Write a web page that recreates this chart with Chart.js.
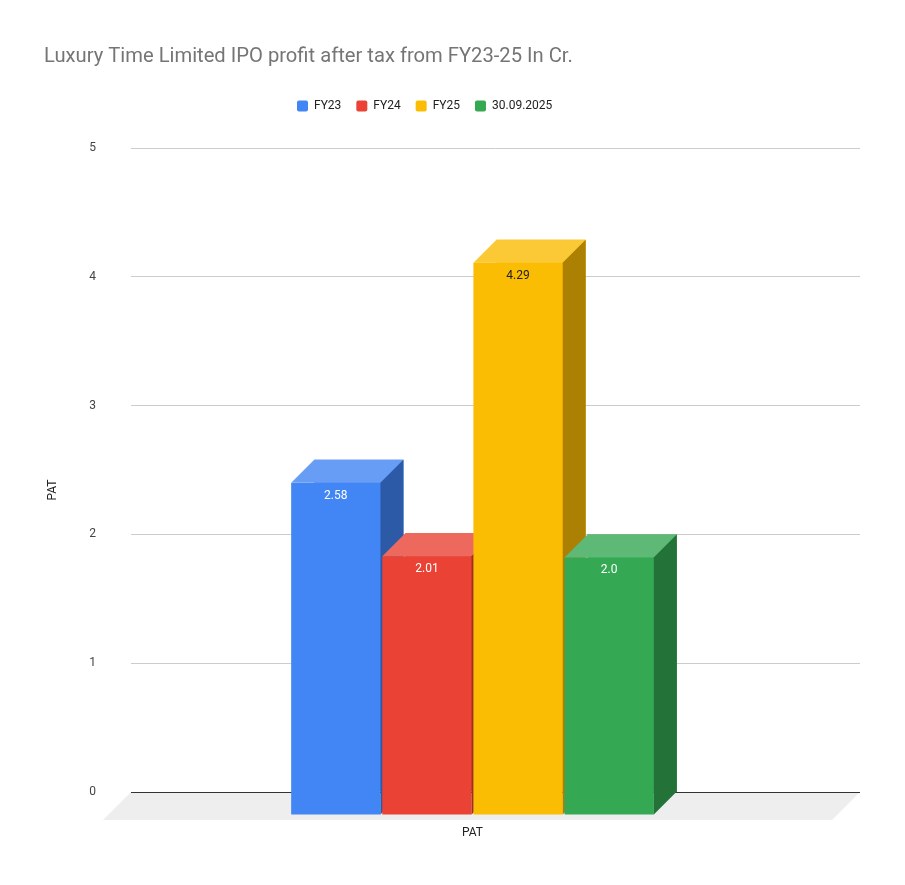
<!DOCTYPE html>
<html>
<head>
<meta charset="utf-8">
<script src="https://cdn.jsdelivr.net/npm/chart.js@4.4.1/dist/chart.umd.min.js"></script>
<style>
html,body{margin:0;padding:0;background:#ffffff;}
#wrap{width:905px;height:885px;position:relative;}
</style>
</head>
<body>
<div id="wrap"><canvas id="c"></canvas></div>
<script>
// ---- data ----
const chartTitle = 'Luxury Time Limited IPO profit after tax from FY23-25 In Cr.';
const categories = ['PAT'];
const seriesNames = ['FY23', 'FY24', 'FY25', '30.09.2025'];
const fy23Values = [2.58];
const fy24Values = [2.01];
const fy25Values = [4.29];
const sep2025Values = [2.0];
const yTickValues = [0, 1, 2, 3, 4, 5];
const yAxisTitle = 'PAT';

// ---- styles ----
const frontColors = ['#4285f4', '#ea4335', '#fbbc04', '#34a853'];
const labelColors = ['#ffffff', '#ffffff', '#222222', '#ffffff'];
const DEPTH = 23;   // bar 3D depth (px)
const FLOOR = 28;   // floor depth (px)
const FONT = 'Roboto, "Noto Sans", Arial, sans-serif';

function shade(hex, t) {
  const n = parseInt(hex.slice(1), 16);
  let r = (n >> 16) & 255, g = (n >> 8) & 255, b = n & 255;
  if (t >= 0) { r += (255 - r) * t; g += (255 - g) * t; b += (255 - b) * t; }
  else { r *= (1 + t); g *= (1 + t); b *= (1 + t); }
  return 'rgb(' + Math.round(r) + ',' + Math.round(g) + ',' + Math.round(b) + ')';
}
function fmt(v) { return Number.isInteger(v) ? v.toFixed(1) : String(v); }

const allSeries = [fy23Values, fy24Values, fy25Values, sep2025Values];

const threeD = {
  id: 'threeD',
  afterLayout(chart) {
    const lg = chart.legend;
    if (!lg || !lg.lineWidths) return;
    const p = lg.options.labels.padding;
    const T = lg.lineWidths[0];
    const x0 = (lg.left + p + lg.right - T) / 2;
    const dx = 297 - x0;
    const dy = (100 - p) - lg.top;
    lg.left += dx; lg.right += dx;
    lg.top += dy; lg.bottom += dy;
  },
  beforeDraw(chart) {
    const { ctx, chartArea: a } = chart;
    const y0 = chart.scales.y.getPixelForValue(0);
    ctx.save();
    ctx.fillStyle = '#eeeeee';
    ctx.beginPath();
    ctx.moveTo(a.left, y0);
    ctx.lineTo(a.right, y0);
    ctx.lineTo(a.right - FLOOR, y0 + FLOOR);
    ctx.lineTo(a.left - FLOOR, y0 + FLOOR);
    ctx.closePath();
    ctx.fill();
    ctx.restore();
  },
  afterDatasetsDraw(chart) {
    const ctx = chart.ctx;
    const labels = [];
    ctx.save();
    chart.data.datasets.forEach((ds, i) => {
      const meta = chart.getDatasetMeta(i);
      if (meta.hidden) return;
      meta.data.forEach((el, j) => {
        const p = el.getProps(['x', 'y', 'base', 'width'], true);
        const fl = p.x - p.width / 2 - DEPTH;
        const fr = p.x + p.width / 2 - DEPTH;
        const ft = p.y + DEPTH;
        const fb = p.base + DEPTH;
        const col = frontColors[i];
        ctx.fillStyle = col;
        ctx.fillRect(fl, ft, fr - fl, fb - ft);
        ctx.fillStyle = shade(col, 0.2);
        ctx.beginPath();
        ctx.moveTo(fl, ft);
        ctx.lineTo(fl + DEPTH, p.y);
        ctx.lineTo(fr + DEPTH, p.y);
        ctx.lineTo(fr, ft);
        ctx.closePath();
        ctx.fill();
        ctx.fillStyle = shade(col, -0.32);
        ctx.beginPath();
        ctx.moveTo(fr, ft);
        ctx.lineTo(fr + DEPTH, p.y);
        ctx.lineTo(fr + DEPTH, p.base);
        ctx.lineTo(fr, fb);
        ctx.closePath();
        ctx.fill();
        labels.push({ x: (fl + fr) / 2, y: ft + 13, text: fmt(ds.data[j]), color: labelColors[i] });
      });
    });
    ctx.font = '12px ' + FONT;
    ctx.textAlign = 'center';
    ctx.textBaseline = 'middle';
    labels.forEach(l => { ctx.fillStyle = l.color; ctx.fillText(l.text, l.x, l.y); });

    const xs = chart.scales.x;
    const y0 = chart.scales.y.getPixelForValue(0);
    ctx.fillStyle = '#222222';
    categories.forEach((c, k) => {
      ctx.fillText(c, xs.getPixelForValue(k) - DEPTH, y0 + 41);
    });
    ctx.translate(53, (chart.chartArea.top + y0 + FLOOR + 12) / 2);
    ctx.rotate(-Math.PI / 2);
    ctx.fillText(yAxisTitle, 0, 0);
    ctx.restore();
  }
};

new Chart(document.getElementById('c'), {
  type: 'bar',
  data: {
    labels: categories,
    datasets: allSeries.map((vals, i) => ({
      label: seriesNames[i],
      data: vals,
      backgroundColor: frontColors[i],
      borderWidth: 0,
      categoryPercentage: 0.5,
      barPercentage: 0.98
    }))
  },
  options: {
    responsive: true,
    maintainAspectRatio: false,
    animation: false,
    devicePixelRatio: 1,
    layout: { padding: { left: 44, right: 45, top: 0, bottom: 0 } },
    plugins: {
      title: {
        display: true,
        text: chartTitle,
        align: 'start',
        color: '#757575',
        font: { family: FONT, size: 20.2, weight: 'normal', lineHeight: 1.2 },
        padding: { top: 45, bottom: 42 }
      },
      legend: {
        display: true,
        position: 'top',
        align: 'center',
        labels: {
          color: '#222222',
          font: { family: FONT, size: 12 },
          boxWidth: 11,
          boxHeight: 11,
          padding: 15,
          useBorderRadius: true,
          borderRadius: 2
        }
      },
      tooltip: { enabled: false }
    },
    scales: {
      x: {
        grid: { display: false },
        border: { display: false },
        ticks: { display: false },
        afterFit(s) { s.height = 93; }
      },
      y: {
        min: 0,
        max: 5,
        afterBuildTicks(s) { s.ticks = yTickValues.map(v => ({ value: v })); },
        ticks: {
          color: '#444444',
          font: { family: FONT, size: 12 },
          padding: 35
        },
        grid: {
          drawTicks: false,
          color: (c) => (c.tick && c.tick.value === 0) ? '#333333' : '#cccccc',
          lineWidth: 1
        },
        border: { display: false },
        afterFit(s) { s.width = 87; }
      }
    }
  },
  plugins: [threeD]
});
</script>
</body>
</html>
